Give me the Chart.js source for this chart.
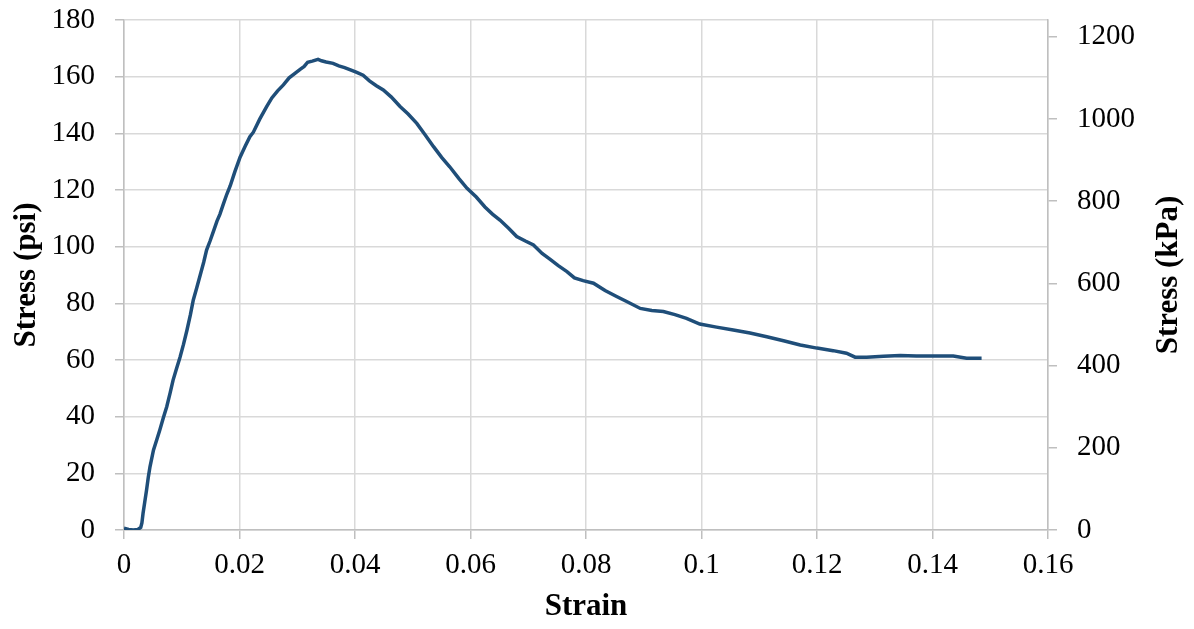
<!DOCTYPE html>
<html>
<head>
<meta charset="utf-8">
<script src="https://cdn.jsdelivr.net/npm/chart.js@4/dist/chart.umd.min.js"></script>
<style>
  html, body { margin: 0; padding: 0; background: #ffffff; }
  #wrap { width: 1194px; height: 629px; }
</style>
</head>
<body>
<div id="wrap"><canvas id="c" width="1194" height="629"></canvas></div>
<script>
// ---- data ----
const strain = [
  0, 0.0008, 0.0016, 0.0024, 0.0029, 0.0031, 0.0033, 0.0036, 0.0039, 0.0042,
  0.0045, 0.0051, 0.0057, 0.0062, 0.0068, 0.0074, 0.0080, 0.0085, 0.0091, 0.0097,
  0.0103, 0.0109, 0.0115, 0.0120, 0.0126, 0.0132, 0.0138, 0.0143, 0.0149, 0.0155,
  0.0161, 0.0166, 0.0172, 0.0178, 0.0184, 0.0192, 0.0201, 0.0210, 0.0218, 0.0224,
  0.0235, 0.0247, 0.0256, 0.0266, 0.0276, 0.0286, 0.0296, 0.0305, 0.0312, 0.0318,
  0.0326, 0.0336, 0.0342, 0.0350, 0.0362, 0.0372, 0.0382, 0.0391, 0.0402, 0.0414,
  0.0425, 0.0437, 0.0449, 0.0463, 0.0478, 0.0492, 0.0507, 0.0521, 0.0536, 0.0550,
  0.0564, 0.0580, 0.0594, 0.0610, 0.0625, 0.0638, 0.0651, 0.0666, 0.0680, 0.0695,
  0.0709, 0.0724, 0.0738, 0.0752, 0.0767, 0.0780, 0.0795, 0.0813, 0.0833, 0.0853,
  0.0873, 0.0894, 0.0914, 0.0934, 0.0954, 0.0974, 0.0997, 0.1026, 0.1055, 0.1084,
  0.1113, 0.1142, 0.1171, 0.1200, 0.1228, 0.1251, 0.1266, 0.1286, 0.1315, 0.1344,
  0.1372, 0.1401, 0.1436, 0.1459, 0.1485
];
const stressPsi = [
  0.6, 0.2, 0, 0.2, 0.9, 2.5, 5.9, 10, 14, 18.5,
  22.3, 28.2, 32, 35.3, 39.5, 43.5, 48.5, 52.9, 57, 61,
  65.5, 70.5, 76, 81.2, 85.5, 90, 94.5, 98.8, 102, 105.5,
  109, 111.4, 115, 118.5, 121.5, 126.5, 131.6, 135.5, 138.8, 140.4,
  145, 149.4, 152.5, 155, 157.1, 159.6, 161.2, 162.6, 163.6, 165.1,
  165.5, 166.1, 165.6, 165.2, 164.7, 163.8, 163.2, 162.5, 161.6, 160.5,
  158.5, 156.8, 155.3, 152.8, 149.5, 146.8, 143.5, 139.6, 135.3, 131.5,
  128.2, 124, 120.6, 117.5, 114, 111.5, 109.4, 106.5, 103.6, 102,
  100.6, 97.6, 95.5, 93.3, 91.2, 89, 88, 87.1, 84.5, 82.4,
  80.4, 78.2, 77.5, 77.1, 76, 74.7, 72.7, 71.6, 70.6, 69.5,
  68.2, 66.8, 65.3, 64.2, 63.3, 62.4, 61, 61, 61.3, 61.6,
  61.4, 61.4, 61.4, 60.6, 60.6
];
const xTicks = [0, 0.02, 0.04, 0.06, 0.08, 0.1, 0.12, 0.14, 0.16];
const psiTicks = [0, 20, 40, 60, 80, 100, 120, 140, 160, 180];
const kpaTicks = [0, 200, 400, 600, 800, 1000, 1200];
const PSI_TO_KPA = 6.894757;
const rightTitle = 'Stress (kPa)';

const serif = "'Liberation Serif', 'Times New Roman', serif";
const gridCol = '#d9d9d9';
const axisCol = '#bfbfbf';
const tickFont = { family: serif, size: 29 };
const titleFont = { family: serif, size: 31, weight: 'bold' };

const points = strain.map((s, i) => ({ x: s, y: stressPsi[i] }));

// right-axis title reading bottom-to-top, like the left one
const rightTitlePlugin = {
  id: 'rightTitle',
  afterDraw(chart) {
    const s = chart.scales.y2;
    const ctx = chart.ctx;
    ctx.save();
    ctx.translate(s.right - 25, (chart.chartArea.top + chart.chartArea.bottom) / 2);
    ctx.rotate(-Math.PI / 2);
    ctx.font = `bold ${titleFont.size}px ${serif}`;
    ctx.fillStyle = '#000';
    ctx.textAlign = 'center';
    ctx.textBaseline = 'middle';
    ctx.fillText(rightTitle, 0, 0);
    ctx.restore();
  }
};

const noVPad = s => { s.paddingTop = 0; s.paddingBottom = 0; };

new Chart(document.getElementById('c'), {
  type: 'scatter',
  data: {
    datasets: [{
      data: points,
      showLine: true,
      borderColor: '#1f4e79',
      backgroundColor: '#1f4e79',
      borderWidth: 3.5,
      pointRadius: 0,
      tension: 0,
      yAxisID: 'y'
    }]
  },
  options: {
    responsive: false,
    animation: false,
    layout: { padding: { top: 20, left: 0, right: 0, bottom: 0 } },
    plugins: { legend: { display: false }, tooltip: { enabled: false } },
    scales: {
      x: {
        type: 'linear',
        position: 'bottom',
        min: 0, max: 0.16,
        afterBuildTicks: s => { s.ticks = xTicks.map(v => ({ value: v })); },
        afterFit: s => { s.height = 99; s.paddingLeft = 0; s.paddingRight = 0; },
        ticks: {
          color: '#000',
          font: tickFont,
          padding: 9,
          maxRotation: 0,
          autoSkip: false,
          callback: v => String(Number(Number(v).toFixed(2)))
        },
        grid: { color: gridCol, lineWidth: 1.5, tickLength: 9, tickColor: axisCol },
        border: { color: axisCol, width: 1.5 },
        title: {
          display: true, text: 'Strain', color: '#000',
          font: titleFont,
          padding: { top: 0, bottom: 3 }
        }
      },
      y: {
        type: 'linear',
        position: 'left',
        min: 0, max: 180,
        afterBuildTicks: s => { s.ticks = psiTicks.map(v => ({ value: v })); },
        afterFit: s => { s.width = 124; noVPad(s); },
        ticks: {
          color: '#000',
          font: tickFont,
          padding: 20,
          autoSkip: false,
          callback: v => String(v)
        },
        grid: { color: gridCol, lineWidth: 1.5, tickLength: 9, tickColor: axisCol },
        border: { color: axisCol, width: 1.5 },
        title: {
          display: true, text: 'Stress (psi)', color: '#000',
          font: titleFont,
          padding: { top: 8, bottom: 0 }
        }
      },
      y2: {
        type: 'linear',
        position: 'right',
        min: 0, max: 180 * PSI_TO_KPA,
        afterBuildTicks: s => { s.ticks = kpaTicks.map(v => ({ value: v })); },
        afterFit: s => { s.width = 146; noVPad(s); },
        ticks: {
          color: '#000',
          font: tickFont,
          padding: 20,
          autoSkip: false,
          callback: v => String(v)
        },
        grid: { drawOnChartArea: false, color: axisCol, lineWidth: 1.5, tickLength: 9 },
        border: { color: axisCol, width: 1.5 },
        title: { display: false }
      }
    }
  },
  plugins: [rightTitlePlugin]
});
</script>
</body>
</html>
